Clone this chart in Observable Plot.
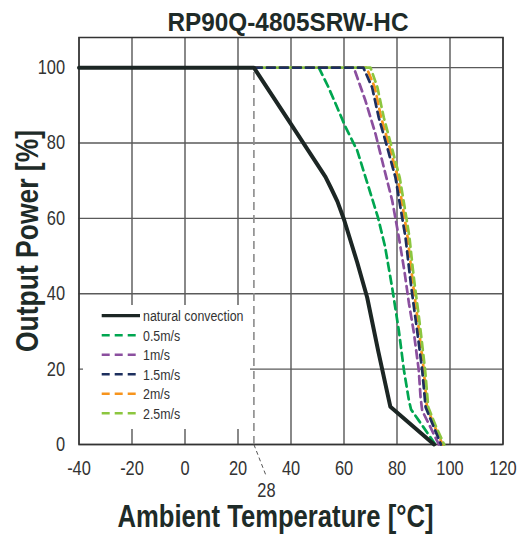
<!DOCTYPE html>
<html><head><meta charset="utf-8">
<script src="https://cdn.jsdelivr.net/npm/d3@7"></script>
<script src="https://cdn.jsdelivr.net/npm/@observablehq/plot@0.6"></script>
<style>
body{margin:0;background:#fff;}
#wrap{position:relative;width:522px;height:544px;}
#legend{position:absolute;left:83px;top:305px;width:167px;height:124px;background:#fff;}
#legend svg{overflow:visible;}
</style>
</head><body>
<div id="wrap"><div id="chart"></div><div id="legend"></div></div>
<script>
const FONT = "Liberation Sans, Arial, sans-serif";

const chartTitle = "RP90Q-4805SRW-HC";
const xTitle = "Ambient Temperature [°C]";
const yTitle = "Output Power [%]";

const xTicks = [-40, -20, 0, 20, 40, 60, 80, 100, 120];
const xTickLabels = ["-40", "-20", "0", "20", "40", "60", "80", "100", "120"];
const yTicks = [0, 20, 40, 60, 80, 100];
const yTickLabels = ["0", "20", "40", "60", "80", "100"];

const deratingStart = 26;     // position of the dashed marker line as drawn
const deratingLabel = "28";

const seriesNames = ["natural convection", "0.5m/s", "1m/s", "1.5m/s", "2m/s", "2.5m/s"];
const seriesColors = ["#1c2624", "#00a650", "#8b4f9f", "#1d2f5e", "#f7941d", "#8cc63f"];

const naturalConvection = [[-40,100],[26,100],[40,85],[53,71],[55,68.2],[57.5,64.5],[60,59.7],[62.5,54],[65,48.3],[68.75,39],[73,24.5],[77.5,10],[94,0]];
const air05 = [[26,100],[50.5,100],[54,95],[57.4,89.5],[60.6,84.2],[65,78],[68.75,69.5],[72.8,60.3],[75.5,52.5],[78.2,41.5],[80.7,30.2],[82.6,19.8],[84.5,11.7],[85.3,9.3],[88.2,6.4],[94.5,0]];
const air10 = [[26,100],[63.7,100],[68.1,91.2],[71.9,82.4],[75,73.6],[78.2,64.7],[80.7,55],[82.8,46],[84.5,37.5],[86.3,30],[88.2,19.8],[88.9,12.5],[89.5,9],[92.6,4.6],[95.8,0]];
const air15 = [[26,100],[67.3,100],[70.6,94.8],[73.1,86.8],[76.3,78.9],[79.4,70.9],[81.3,62.9],[83.2,55],[84.5,47],[85.4,41.7],[86.4,36.4],[87.6,30.2],[89.5,19.8],[90.8,9.9],[93.9,4.6],[96.6,0]];
const air20 = [[26,100],[68.5,100],[71.6,94.8],[74,86.8],[77.2,78.9],[80.3,70.9],[82.2,62.9],[84,55],[85.3,47],[86.2,41.7],[87.2,36.4],[88.3,30.2],[90.1,19.8],[91.3,9.9],[94.3,4.6],[97.2,0]];
const air25 = [[26,100],[70,100],[72.6,94.8],[75,86.8],[78,78.9],[81,70.9],[82.9,62.9],[84.7,55],[85.9,47],[86.8,41.7],[87.8,36.4],[88.9,30.2],[90.6,19.8],[91.8,9.9],[94.8,4.6],[97.8,0]];

const seriesData = [naturalConvection, air05, air10, air15, air20, air25];
const rows = seriesData.flatMap((pts, i) => pts.map(([t, p]) => ({series: seriesNames[i], t, p})));
const color = Object.fromEntries(seriesNames.map((n, i) => [n, seriesColors[i]]));

const dashedOrder = ["0.5m/s", "1m/s", "2m/s", "2.5m/s", "1.5m/s"];
const dashedMarks = dashedOrder.map(name => Plot.line(rows.filter(r => r.series === name), {
  x: "t", y: "p", stroke: color[name], strokeWidth: 2.7,
  strokeDasharray: "8,5", strokeDashoffset: name === "2.5m/s" ? 6.5 : 0
}));

const chart = Plot.plot({
  width: 522, height: 544,
  marginLeft: 78.5, marginRight: 19.5, marginTop: 37, marginBottom: 100,
  x: {domain: [-40, 120]},
  y: {domain: [0, 108]},
  style: {fontFamily: FONT, fontSize: "20px", color: "#333", background: "white"},
  marks: [
    Plot.gridX(xTicks, {stroke: "#3a3a3a", strokeOpacity: 1, strokeWidth: 1.2}),
    Plot.gridY(yTicks, {stroke: "#5a5a5a", strokeOpacity: 1, strokeWidth: 1.3}),
    Plot.frame({stroke: "#333", strokeWidth: 1.5}),
    Plot.axisX(xTicks, {tickSize: 0, tickPadding: 16, label: null, fontSize: 20, fill: "#333",
      tickFormat: d => xTickLabels[xTicks.indexOf(d)]}),
    Plot.axisY(yTicks, {tickSize: 0, tickPadding: 14, label: null, fontSize: 20, fill: "#333",
      tickFormat: d => yTickLabels[yTicks.indexOf(d)]}),
    Plot.ruleX([deratingStart], {y1: 0, y2: 100, stroke: "#8a8a8a", strokeWidth: 1.6, strokeDasharray: "8,5"}),
    Plot.link([deratingStart], {x1: d => d, y1: 0, x2: d => d + 4.6, y2: -8.3,
      stroke: "#555", strokeWidth: 1, strokeDasharray: "4,3", clip: false}),
    Plot.text([deratingLabel], {x: deratingStart, y: 0, text: d => d, dx: 12.5, dy: 46,
      fontSize: 20, fill: "#333", lineAnchor: "middle"}),
    ...dashedMarks,
    Plot.line(rows.filter(r => r.series === "natural convection"), {x: "t", y: "p",
      stroke: color["natural convection"], strokeWidth: 4}),
    Plot.text([chartTitle], {frameAnchor: "top", dy: -15, dx: -3, fontSize: 25, fontWeight: "bold",
      fill: "#1e2b28", textAnchor: "middle", lineAnchor: "middle"}),
    Plot.text([yTitle], {frameAnchor: "left", rotate: -90, dx: -51, fontSize: 31, fontWeight: "bold",
      fill: "#1e2b28", textAnchor: "middle", lineAnchor: "middle"}),
    Plot.text([xTitle], {frameAnchor: "bottom", dy: 73, dx: -15.5, fontSize: 31, fontWeight: "bold",
      fill: "#1e2b28", textAnchor: "middle", lineAnchor: "middle"})
  ]
});
document.getElementById("chart").appendChild(chart);

// condense the chart text to match the narrow typeface of the reference
const targetWidths = {[chartTitle]: 241, [xTitle]: 316, [yTitle]: 222};
d3.select(chart).selectAll("text").each(function () {
  const w = this.getComputedTextLength();
  if (!w) return;
  const t = this.textContent;
  const target = targetWidths[t] !== undefined ? targetWidths[t] : w * 0.82;
  this.setAttribute("textLength", target);
  this.setAttribute("lengthAdjust", "spacingAndGlyphs");
});

// legend (text condensed with a horizontal scale so its box stays accurate)
const lg = d3.select("#legend").append("svg").attr("width", 167).attr("height", 124);
seriesNames.forEach((name, i) => {
  const y = 10.7 + i * 19.5;
  lg.append("line").attr("x1", 18.7).attr("x2", 57).attr("y1", y).attr("y2", y)
    .attr("stroke", seriesColors[i]).attr("stroke-width", i === 0 ? 3.2 : 2.6)
    .attr("stroke-dasharray", i === 0 ? null : "8,5");
  lg.append("text").attr("transform", `translate(60,${y}) scale(0.8,1)`).attr("dy", "0.35em")
    .attr("font-family", FONT).attr("font-size", 15.5).attr("fill", "#333").text(name);
});
</script>
</body></html>
